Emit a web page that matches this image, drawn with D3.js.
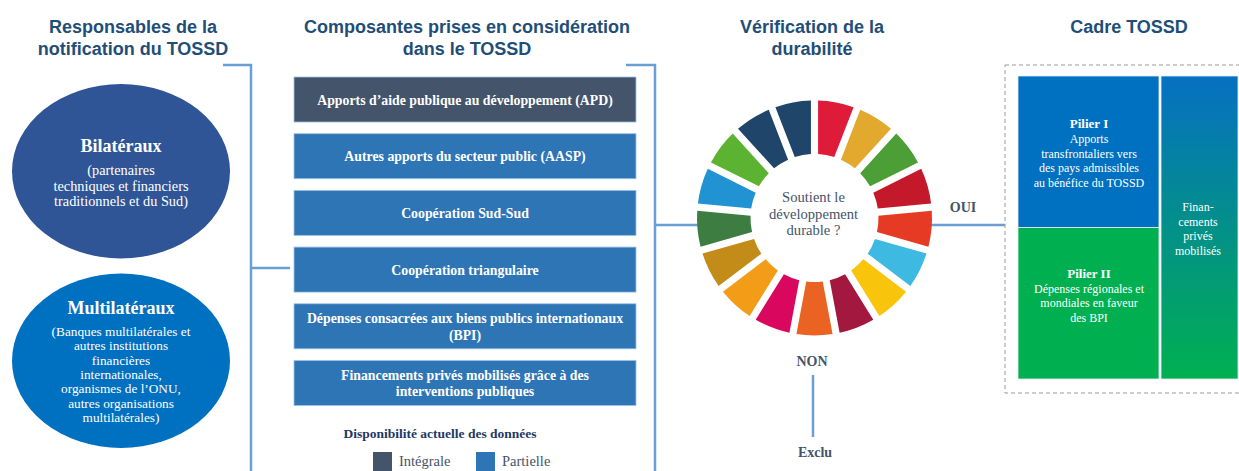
<!DOCTYPE html>
<html><head><meta charset="utf-8">
<script src="https://cdn.jsdelivr.net/npm/d3@7"></script>
<style>body{margin:0;background:#fff}svg{display:block}</style>
</head><body>
<svg id="c" width="1239" height="471"></svg>
<script>
// ---- data ----
const titles = [
  ["Responsables de la", "notification du TOSSD"],
  ["Composantes prises en considération", "dans le TOSSD"],
  ["Vérification de la", "durabilité"],
  ["Cadre TOSSD"]
];
const reporters = ["Bilatéraux", "Multilatéraux"];
const reporterNotes = [
  ["(partenaires", "techniques et financiers", "traditionnels et du Sud)"],
  ["(Banques multilatérales et", "autres institutions", "financières", "internationales,", "organismes de l’ONU,", "autres organisations", "multilatérales)"]
];
const components = [
  ["Apports d’aide publique au développement (APD)"],
  ["Autres apports du secteur public (AASP)"],
  ["Coopération Sud-Sud"],
  ["Coopération triangulaire"],
  ["Dépenses consacrées aux biens publics internationaux", "(BPI)"],
  ["Financements privés mobilisés grâce à des", "interventions publiques"]
];
const availability = ["Intégrale", "Partielle", "Partielle", "Partielle", "Partielle", "Partielle"];
const legendItems = ["Intégrale", "Partielle"];
const legendTitle = "Disponibilité actuelle des données";
const sdgGoals = d3.range(1, 18);
const sdgColors = ["#DF1B3A","#E2A92E","#4C9E36","#C4192A","#E53A24","#3DB9E2","#F8C40C","#A2183F",
                   "#EA6322","#D9075E","#F39C18","#C38C18","#3E7D42","#2193D3","#5CB332","#1F456A","#1F456A"];
const centreQuestion = ["Soutient le", "développement", "durable ?"];
const answers = ["OUI", "NON", "Exclu"];
const pillars = [
  {title: "Pilier I", lines: ["Apports", "transfrontaliers vers", "des pays admissibles", "au bénéfice du TOSSD"]},
  {title: "Pilier II", lines: ["Dépenses régionales et", "mondiales en faveur", "des BPI"]}
];
const mobilised = ["Finan-", "cements", "privés", "mobilisés"];

// ---- drawing ----
const svg = d3.select("#c");
const SANS = "'Liberation Sans', Arial, sans-serif";
const SERIF = "'Liberation Serif', 'DejaVu Serif', serif";
const titleColor = "#1F4E79";
const lineColor = "#6A9FD6";
const availColor = d3.scaleOrdinal().domain(legendItems).range(["#44546A", "#2E75B6"]);

function multiline(g, lines, x, y0, lh, attrs) {
  const t = g.append("text").attr("x", x).attr("y", y0).attr("text-anchor", "middle");
  Object.entries(attrs).forEach(([k, v]) => t.attr(k, v));
  lines.forEach((l, i) => t.append("tspan").attr("x", x).attr("y", y0 + i * lh).text(l));
  return t;
}

// titles
const titleX = [133, 467, 812, 1129];
titles.forEach((t, i) => multiline(svg, t, titleX[i], 33, 22,
  {"font-family": SANS, "font-weight": "bold", "font-size": "18px", fill: titleColor}));

// connector lines
const lines = svg.append("g").attr("fill", "none").attr("stroke", lineColor).attr("stroke-width", 2.5);
lines.append("path").attr("d", "M223,65H251V471");
lines.append("path").attr("d", "M251,268H290");
lines.append("path").attr("d", "M626,65H655V471");
lines.append("path").attr("d", "M655,225H700");
lines.append("path").attr("d", "M930,225H1005");
lines.append("path").attr("d", "M813,375V437");

// reporters ellipses
const ry = d3.scaleBand().domain(reporters).range([84, 448]).paddingInner(0.08);
const repColor = d3.scaleOrdinal().domain(reporters).range(["#2F5597", "#0070C0"]);
reporters.forEach((r, i) => {
  const cy = ry(r) + ry.bandwidth() / 2;
  svg.append("ellipse").attr("cx", 121).attr("cy", cy).attr("rx", 109).attr("ry", ry.bandwidth() / 2)
    .attr("fill", repColor(r));
  const top = i === 0 ? cy - 19 : cy - 47;
  svg.append("text").attr("x", 121).attr("y", top).attr("text-anchor", "middle")
    .attr("font-family", SERIF).attr("font-weight", "bold").attr("font-size", "18px").attr("fill", "#fff").text(r);
  multiline(svg, reporterNotes[i], 121, i === 0 ? top + 23 : top + 22, i === 0 ? 15.5 : 14.4,
    {"font-family": SERIF, "font-size": i === 0 ? "14.3px" : "13.3px", fill: "#fff"});
});

// component boxes
const by = d3.scaleBand().domain(d3.range(components.length)).range([77, 405.5]).paddingInner(0.206);
const bx0 = 294, bw = 342;
components.forEach((c, i) => {
  const y = by(i), h = by.bandwidth();
  svg.append("rect").attr("x", bx0).attr("y", y).attr("width", bw).attr("height", h)
    .attr("fill", availColor(availability[i])).attr("stroke", "#9DC3E6").attr("stroke-width", 0.8);
  const lh = 16.5;
  const y0 = y + h / 2 + 5 - (c.length - 1) * lh / 2;
  multiline(svg, c, bx0 + bw / 2, y0, lh,
    {"font-family": SERIF, "font-weight": "bold", "font-size": "13.8px", fill: "#fff"});
});

// legend
svg.append("text").attr("x", 440).attr("y", 438).attr("text-anchor", "middle")
  .attr("font-family", SERIF).attr("font-weight", "bold").attr("font-size", "13.5px").attr("fill", "#1F3864")
  .text(legendTitle);
const lx = d3.scalePoint().domain(legendItems).range([373, 476]);
legendItems.forEach(k => {
  svg.append("rect").attr("x", lx(k)).attr("y", 452).attr("width", 19).attr("height", 19).attr("fill", availColor(k));
  svg.append("text").attr("x", lx(k) + 26).attr("y", 466).attr("font-family", SERIF).attr("font-size", "14.5px")
    .attr("fill", "#44546A").text(k);
});

// SDG wheel
const cx = 814.5, cy = 218;
const pie = d3.pie().value(1).sort(null).padAngle(0.055);
const arc = d3.arc().innerRadius(64).outerRadius(117.5).padRadius(130);
svg.append("g").attr("transform", `translate(${cx},${cy})`)
  .selectAll("path").data(pie(sdgGoals)).join("path")
  .attr("d", arc).attr("fill", (d, i) => sdgColors[i]);
multiline(svg, centreQuestion, cx - 1, 202, 16.5,
  {"font-family": SERIF, "font-size": "14.6px", fill: "#44546A"});

// answers
const ansStyle = {"font-family": SERIF, "font-weight": "bold", "font-size": "14px", fill: "#44546A"};
multiline(svg, [answers[0]], 963, 212, 0, ansStyle);
multiline(svg, [answers[1]], 812, 366, 0, ansStyle);
multiline(svg, [answers[2]], 815, 457, 0, ansStyle);

// TOSSD framework
svg.append("rect").attr("x", 1005).attr("y", 65).attr("width", 240).attr("height", 328)
  .attr("fill", "none").attr("stroke", "#999").attr("stroke-width", 1).attr("stroke-dasharray", "4,3");
const grad = svg.append("defs").append("linearGradient").attr("id", "mob").attr("x1", 0).attr("y1", 0).attr("x2", 0).attr("y2", 1);
grad.append("stop").attr("offset", "0%").attr("stop-color", "#0670C2");
grad.append("stop").attr("offset", "100%").attr("stop-color", "#00B050");
const py = d3.scaleBand().domain(d3.range(pillars.length)).range([76, 379]);
const pillarColor = ["#0070C0", "#00B050"];
pillars.forEach((p, i) => {
  svg.append("rect").attr("x", 1018).attr("y", py(i)).attr("width", 141).attr("height", py.bandwidth())
    .attr("fill", pillarColor[i]).attr("stroke", "#e6eef7").attr("stroke-width", 0.8);
  const t0 = py(i) + (i === 0 ? 52 : 50);
  svg.append("text").attr("x", 1089).attr("y", t0).attr("text-anchor", "middle")
    .attr("font-family", SERIF).attr("font-weight", "bold").attr("font-size", "13px").attr("fill", "#fff").text(p.title);
  multiline(svg, p.lines, 1089, t0 + 15, 14.6, {"font-family": SERIF, "font-size": "12px", fill: "#fff"});
});
svg.append("rect").attr("x", 1161).attr("y", 76).attr("width", 77).attr("height", 303)
  .attr("fill", "url(#mob)").attr("stroke", "#e6eef7").attr("stroke-width", 0.8);
multiline(svg, mobilised, 1198, 211, 14.6, {"font-family": SERIF, "font-size": "12px", fill: "#fff"});
</script>
</body></html>
